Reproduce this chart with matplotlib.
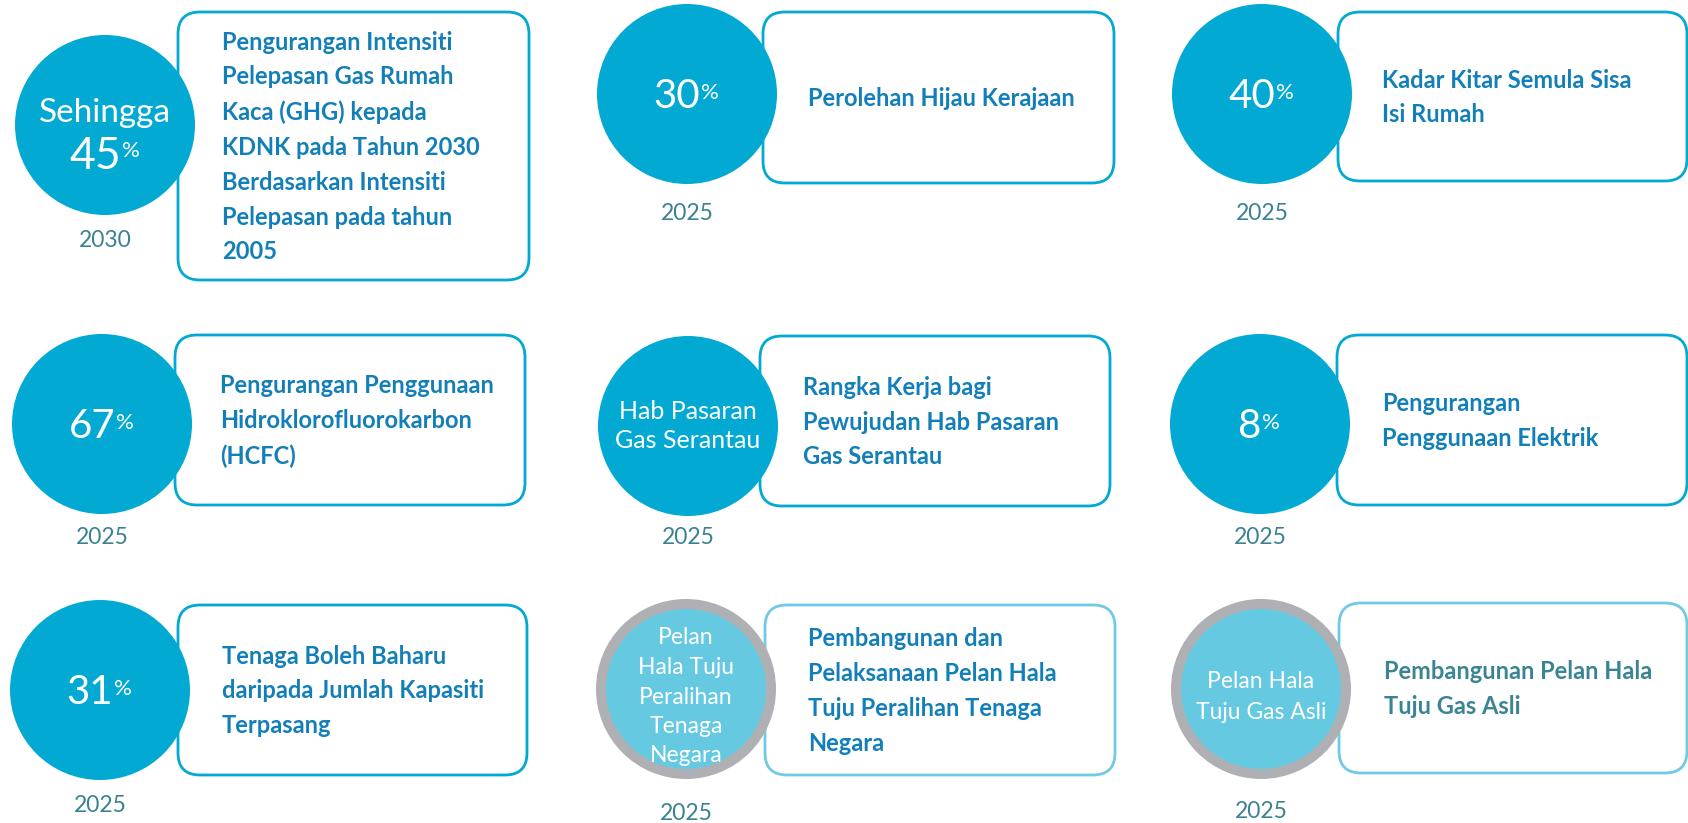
"""Infographic: national green targets (circles + rounded boxes)."""
import matplotlib
matplotlib.use("Agg")
import matplotlib.pyplot as plt
from matplotlib.patches import Circle, FancyBboxPatch
from matplotlib import rcParams

rcParams['font.family'] = ['Lato', 'DejaVu Sans']

# --- data -----------------------------------------------------------------
VALUES = ['45', '30', '40', '67', None, '8', '31', None, None]
CIRCLE_TEXT = ['Sehingga', '', '', '', 'Hab Pasaran\nGas Serantau', '', '',
               'Pelan\nHala Tuju\nPeralihan\nTenaga\nNegara',
               'Pelan Hala\nTuju Gas Asli']
YEARS = ['2030', '2025', '2025', '2025', '2025', '2025', '2025', '2025', '2025']
DESCRIPTIONS = [
    'Pengurangan Intensiti\nPelepasan Gas Rumah\nKaca (GHG) kepada\n'
    'KDNK pada Tahun 2030\nBerdasarkan Intensiti\nPelepasan pada tahun\n2005',
    'Perolehan Hijau Kerajaan',
    'Kadar Kitar Semula Sisa\nIsi Rumah',
    'Pengurangan Penggunaan\nHidroklorofluorokarbon\n(HCFC)',
    'Rangka Kerja bagi\nPewujudan Hab Pasaran\nGas Serantau',
    'Pengurangan\nPenggunaan Elektrik',
    'Tenaga Boleh Baharu\ndaripada Jumlah Kapasiti\nTerpasang',
    'Pembangunan dan\nPelaksanaan Pelan Hala\nTuju Peralihan Tenaga\nNegara',
    'Pembangunan Pelan Hala\nTuju Gas Asli',
]
IS_PLAN = [False] * 7 + [True, True]

# --- layout (pixels) ------------------------------------------------------
CIRCLES = [(105, 125), (687, 94), (1262, 94),
           (102, 424), (688, 426), (1260, 424),
           (100, 690), (686, 689), (1261, 689)]
BOXES = [(178, 12, 529, 280), (763, 12, 1114, 183), (1338, 12, 1687, 181),
         (175, 335, 525, 505), (760, 336, 1110, 506), (1337, 335, 1687, 505),
         (178, 605, 527, 775), (765, 605, 1115, 775), (1339, 603, 1687, 773)]
TEXT_X = [222, 808, 1382, 220, 803, 1382, 222, 808, 1384]
YEAR_Y = [240, 213, 213, 538, 538, 538, 805, 813, 811]
R = 90

BLUE = '#02a9d3'
LIGHT = '#66c9e2'
RING = '#aeb0b3'
TXT = '#137fb8'
TXT2 = '#3a8494'
YEAR_C = '#3a8291'

fig = plt.figure(figsize=(16.88, 8.23), dpi=100, facecolor='white')
ax = fig.add_axes([0, 0, 1, 1])
ax.set_xlim(0, 1688)
ax.set_ylim(823, 0)
ax.axis('off')

for i in range(9):
    cx, cy = CIRCLES[i]
    x0, y0, x1, y1 = BOXES[i]
    plan = IS_PLAN[i]

    # box
    edge = '#6fcbe4' if plan else BLUE
    box = FancyBboxPatch((x0, y0), x1 - x0, y1 - y0,
                         boxstyle='round,pad=0,rounding_size=22',
                         facecolor='white', edgecolor=edge, linewidth=2.0, zorder=1)
    ax.add_patch(box)
    tc = TXT2 if i == 8 else TXT
    ax.text(TEXT_X[i], (y0 + y1) / 2 + 1, DESCRIPTIONS[i], fontsize=17, fontweight='bold',
            color=tc, ha='left', va='center', linespacing=1.62, zorder=3)

    # circle
    if plan:
        ax.add_patch(Circle((cx, cy), R, facecolor=RING, edgecolor='none', zorder=2))
        ax.add_patch(Circle((cx, cy), R - 10, facecolor=LIGHT, edgecolor='none', zorder=2))
    else:
        ax.add_patch(Circle((cx, cy), R, facecolor=BLUE, edgecolor='none', zorder=2))

    val = VALUES[i]
    if val is not None:
        if CIRCLE_TEXT[i]:
            ax.text(cx, cy - 12, CIRCLE_TEXT[i], fontsize=24, color='white',
                    ha='center', va='center', zorder=3)
            ny, fs = cy + 31, 32
        else:
            ny, fs = cy + 2, 29
        num = ax.text(cx - 10, ny, val, fontsize=fs, color='white',
                      ha='center', va='center', zorder=3)
        ax.annotate('%', xy=(1, 0.86), xycoords=num, xytext=(0.5, 0),
                    textcoords='offset points', fontsize=16, color='white',
                    ha='left', va='top', zorder=3)
    elif plan:
        ax.text(cx, cy + 8, CIRCLE_TEXT[i], fontsize=16.5, color='white',
                ha='center', va='center', linespacing=1.5 if i == 7 else 1.6, zorder=3)
    else:
        ax.text(cx, cy, CIRCLE_TEXT[i], fontsize=18, color='white',
                ha='center', va='center', linespacing=1.3, zorder=3)

    ax.text(cx, YEAR_Y[i], YEARS[i], fontsize=16.5, color=YEAR_C,
            ha='center', va='center', zorder=3)

fig.savefig('out.png', dpi=100, facecolor='white')
